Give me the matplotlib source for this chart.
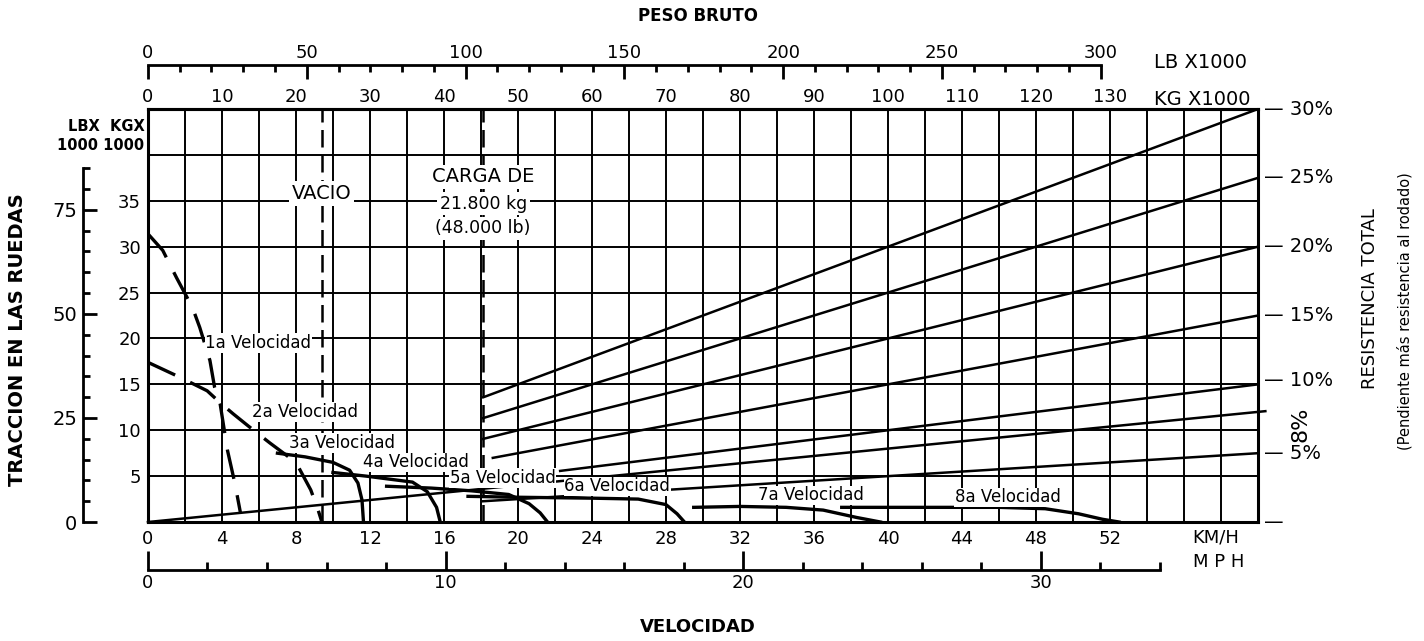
import numpy as np
import matplotlib
matplotlib.use('Agg')
from matplotlib import pyplot as plt
from matplotlib import transforms
from matplotlib.ticker import MultipleLocator

# --- scales ---
KMH_MAX = 60          # right edge of the grid
KG_MAX = 45           # top of the grid, kg x 1000
KG_PER_KMH = 2.5      # gross weight ruler: 10 t for every 4 km/h
LB_PER_KG_TOP = 2.33  # printed LB ruler above it
LB_PER_KG = 2.2046
KMH_PER_MPH = 1.609

# --- weights ---
EMPTY_T = 23.5                 # VACIO
LOAD_T = 21.8                  # CARGA DE 21.800 kg
GROSS_T = EMPTY_T + LOAD_T

# --- grade lines (total resistance %) and the weight where each one starts ---
grade_pct = [30, 25, 20, 15, 10, 5]
grade_start_t = [GROSS_T, GROSS_T, GROSS_T, 46.6, 55.7, GROSS_T]
grade_end_t = 150
grade_full_pct = 8   # this one runs from zero weight

# --- rimpull curves: speed km/h, pull kg x 1000 ---
gear_names = ['1a Velocidad', '2a Velocidad', '3a Velocidad', '4a Velocidad',
              '5a Velocidad', '6a Velocidad', '7a Velocidad', '8a Velocidad']
gear1_kmh = [0, 0.8, 1.55, 2.0, 2.4, 2.8, 3.35, 3.6, 3.9, 4.3, 4.7, 5.0]
gear1_kg = [31.4, 29.6, 26.6, 24.9, 23.4, 21.2, 17.6, 14.7, 12.9, 7.8, 4.2, 1.0]
gear2_kmh = [0, 1.7, 3.2, 3.9, 4.6, 5.4, 5.9, 6.6, 8.0, 8.8, 9.2, 9.4]
gear2_kg = [17.4, 15.8, 14.3, 13.0, 11.8, 10.5, 9.7, 8.6, 6.5, 3.5, 1.3, 0]
gear3_kmh = [7.0, 8.5, 10.0, 10.9, 11.35, 11.57, 11.65]
gear3_kg = [7.5, 7.1, 6.5, 5.65, 4.25, 2.4, 0]
gear4_kmh = [10.0, 11.8, 14.3, 15.1, 15.6, 15.8]
gear4_kg = [5.4, 5.0, 4.35, 3.3, 1.6, 0]
gear5_kmh = [12.9, 15.3, 17.5, 19.5, 20.6, 21.2, 21.6]
gear5_kg = [3.9, 3.7, 3.4, 3.0, 2.0, 1.0, 0]
gear6_kmh = [17.3, 20, 24, 26.5, 28.0, 28.6, 29.0]
gear6_kg = [2.8, 2.7, 2.6, 2.5, 1.9, 0.9, 0]
gear7_kmh = [29.5, 32, 34.5, 36.5, 38.3, 39.6]
gear7_kg = [1.6, 1.7, 1.6, 1.3, 0.5, 0]
gear8_kmh = [37.5, 42, 46, 48.5, 50.3, 51.6, 52.5]
gear8_kg = [1.6, 1.6, 1.6, 1.45, 0.9, 0.3, 0]

# label anchors (left end of each gear label)
gear_label_kmh = [3.1, 5.6, 7.6, 11.6, 16.3, 22.5, 33.0, 43.6]
gear_label_kg = [19.5, 12.0, 8.6, 6.5, 4.8, 3.9, 2.9, 2.7]

# tick values of the rulers
kmh_ticks = list(range(0, 53, 4))
kg_left_ticks = [5, 10, 15, 20, 25, 30, 35]
kg_top_ticks = list(range(0, 131, 10))
lb_top_ticks = [0, 50, 100, 150, 200, 250, 300]
lb_left_ticks = [0, 25, 50, 75]
mph_ticks = [0, 10, 20, 30]

plt.rcParams['font.family'] = ['DejaVu Sans']

fig = plt.figure(figsize=(14.24, 6.41), dpi=100)
L, B, W, H = 0.1039, 0.1856, 0.7795, 0.6443
ax = fig.add_axes([L, B, W, H])
ax.set_xlim(0, KMH_MAX)
ax.set_ylim(0, KG_MAX)

# grid, every 2 km/h and every 5 t
ax.set_xticks(kmh_ticks)
ax.xaxis.set_minor_locator(MultipleLocator(2))
ax.set_yticks(kg_left_ticks)
ax.yaxis.set_minor_locator(MultipleLocator(5))
ax.grid(which='both', color='black', lw=1.4)
ax.tick_params(which='both', length=0, labelsize=13)
ax.tick_params(axis='x', pad=6)
ax.tick_params(axis='y', pad=5)
for s in ax.spines.values():
    s.set_linewidth(2.2)

# top kg ruler
sec = ax.secondary_xaxis('top', functions=(lambda x: x * KG_PER_KMH,
                                           lambda x: x / KG_PER_KMH))
sec.set_xticks(kg_top_ticks)
sec.tick_params(length=0, labelsize=13, pad=2)
sec.spines['top'].set_linewidth(2.2)

# grade lines
blend = transforms.blended_transform_factory(ax.transAxes, ax.transData)
for p, w0 in zip(grade_pct, grade_start_t):
    w = np.array([w0, grade_end_t])
    ax.plot(w / KG_PER_KMH, w * p / 100, color='black', lw=1.8)
w = np.array([0, grade_end_t + 1])
ax.plot(w / KG_PER_KMH, w * grade_full_pct / 100, color='black', lw=1.8,
        clip_on=False)

for p in grade_pct:
    y = grade_end_t * p / 100
    if p == 10:
        y += 0.4
    ax.text(1.005, y, '— %d%%' % p, transform=blend,
            ha='left', va='center', fontsize=14)
ax.text(1.029, grade_end_t * grade_full_pct / 100 - 1.3, '8%', transform=blend,
        ha='left', va='center', fontsize=16, rotation=90)
ax.text(1.005, 0, '—', transform=blend, ha='left', va='center', fontsize=14)

# empty and gross weight lines
for t in [EMPTY_T, GROSS_T]:
    ax.plot([t / KG_PER_KMH] * 2, [0, KG_MAX], color='black', lw=1.8,
            dashes=(7, 3))
white = dict(facecolor='white', edgecolor='none', pad=2)
ax.text(EMPTY_T / KG_PER_KMH, 35.8, 'VACIO', ha='center', va='center',
        fontsize=14, bbox=white)
ax.text(GROSS_T / KG_PER_KMH, 37.6, 'CARGA DE', ha='center', va='center',
        fontsize=14, bbox=white)
ax.text(GROSS_T / KG_PER_KMH, 34.7, '21.800 kg', ha='center', va='center',
        fontsize=12.5, bbox=white)
ax.text(GROSS_T / KG_PER_KMH, 32.0, '(48.000 lb)', ha='center', va='center',
        fontsize=12.5, bbox=white)

# gear curves
gears = [(gear1_kmh, gear1_kg), (gear2_kmh, gear2_kg), (gear3_kmh, gear3_kg),
         (gear4_kmh, gear4_kg), (gear5_kmh, gear5_kg), (gear6_kmh, gear6_kg),
         (gear7_kmh, gear7_kg), (gear8_kmh, gear8_kg)]
for i, (gx, gy) in enumerate(gears):
    if i < 2:
        ax.plot(gx, gy, color='black', lw=2.4, dashes=(9, 5))
    else:
        ax.plot(gx, gy, color='black', lw=2.4)
lbl_box = dict(facecolor='white', edgecolor='none', pad=0.5)
for name, lx, ly in zip(gear_names, gear_label_kmh, gear_label_kg):
    ax.text(lx, ly, name, ha='left', va='center', fontsize=12, bbox=lbl_box)

# LB ruler above the grid
ax_lb = fig.add_axes([L, 0.8986, W, 0.0001])
ax_lb.set_xlim(0, KMH_MAX * KG_PER_KMH * LB_PER_KG_TOP)
ax_lb.patch.set_visible(False)
for k in ['left', 'right', 'bottom']:
    ax_lb.spines[k].set_visible(False)
ax_lb.spines['top'].set_linewidth(2)
ax_lb.spines['top'].set_bounds(0, lb_top_ticks[-1])
ax_lb.set_yticks([])
ax_lb.set_xticks(lb_top_ticks)
ax_lb.set_xticks(range(0, 301, 10), minor=True)
ax_lb.xaxis.set_ticks_position('top')
ax_lb.tick_params(axis='x', which='both', direction='in', top=True,
                  bottom=False, labeltop=True, labelbottom=False, width=2)
ax_lb.tick_params(axis='x', which='major', length=10, labelsize=13, pad=2)
ax_lb.tick_params(axis='x', which='minor', length=5)

# MPH ruler under the grid
ax_mph = fig.add_axes([L, 0.1108, W, 0.0001])
ax_mph.set_xlim(0, KMH_MAX / KMH_PER_MPH)
ax_mph.patch.set_visible(False)
for k in ['left', 'right', 'top']:
    ax_mph.spines[k].set_visible(False)
ax_mph.spines['bottom'].set_linewidth(2)
ax_mph.spines['bottom'].set_bounds(0, 34)
ax_mph.set_yticks([])
ax_mph.set_xticks(mph_ticks)
ax_mph.set_xticks(range(0, 35, 2), minor=True)
ax_mph.tick_params(axis='x', which='both', direction='in', width=2)
ax_mph.tick_params(axis='x', which='major', length=14, labelsize=13, pad=3)
ax_mph.tick_params(axis='x', which='minor', length=6)

# LB ruler at the left
ax_lbl = fig.add_axes([0.0583, B, 0.0001, H])
ax_lbl.set_ylim(0, KG_MAX * LB_PER_KG)
ax_lbl.patch.set_visible(False)
for k in ['right', 'top', 'bottom']:
    ax_lbl.spines[k].set_visible(False)
ax_lbl.spines['left'].set_linewidth(2)
ax_lbl.spines['left'].set_bounds(0, 85)
ax_lbl.set_xticks([])
ax_lbl.set_yticks(lb_left_ticks)
ax_lbl.set_yticks(range(0, 86, 5), minor=True)
ax_lbl.tick_params(axis='y', which='both', direction='in', width=2)
ax_lbl.tick_params(axis='y', which='major', length=10, labelsize=14, pad=4)
ax_lbl.tick_params(axis='y', which='minor', length=5)

# captions
fig.text(0.1015, 0.788, 'LBX  KGX\n1000 1000', ha='right', va='center',
         fontsize=10.5, fontweight='bold', linespacing=1.3)
fig.text(0.0126, 0.47, 'TRACCION EN LAS RUEDAS', rotation=90, ha='center',
         va='center', fontsize=14, fontweight='bold')
fig.text(0.49, 0.975, 'PESO BRUTO', ha='center', va='center', fontsize=12,
         fontweight='bold')
fig.text(0.49, 0.022, 'VELOCIDAD', ha='center', va='center', fontsize=13,
         fontweight='bold')
fig.text(0.843, 0.903, 'LB X1000', ha='center', va='center', fontsize=14)
fig.text(0.844, 0.844, 'KG X1000', ha='center', va='center', fontsize=14)
fig.text(0.854, 0.162, 'KM/H', ha='center', va='center', fontsize=13)
fig.text(0.856, 0.123, 'M P H', ha='center', va='center', fontsize=13)
fig.text(0.962, 0.535, 'RESISTENCIA TOTAL', rotation=90, ha='center',
         va='center', fontsize=13)
fig.text(0.9866, 0.515, '(Pendiente más resistencia al rodado)', rotation=90,
         ha='center', va='center', fontsize=10.5)

fig.savefig('out.png', dpi=100)
